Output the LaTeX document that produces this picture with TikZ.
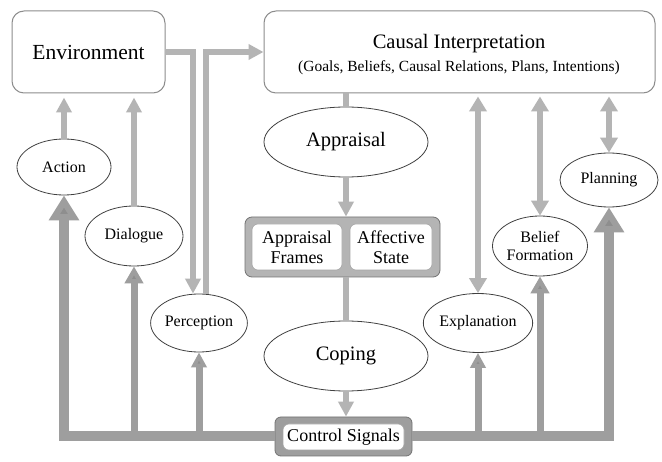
\documentclass[tikz,border=0pt]{standalone}
\usepackage{fontspec}
\setmainfont{Liberation Serif}
\usetikzlibrary{arrows.meta,shapes.geometric}
\definecolor{lgr}{HTML}{B4B4B4}
\definecolor{dgr}{HTML}{9E9E9E}
\definecolor{hgr}{HTML}{8E8E8E}
\definecolor{edg}{HTML}{8C8C8C}
\begin{document}
\begin{tikzpicture}[x=1pt,y=-1pt,
 ell/.style={ellipse, draw=black!75, line width=0.8pt, inner sep=0pt, fill=white, align=center},
 bigbox/.style={rectangle, rounded corners=12pt, draw=edg, line width=1pt, fill=white, inner sep=0pt, align=center},
 graybox/.style={rectangle, rounded corners=7pt, draw=black!55, line width=0.8pt, fill=lgr, inner sep=0pt},
 whitebox/.style={rectangle, rounded corners=6pt, draw=black!35, line width=0.6pt, fill=white, inner sep=0pt, align=center},
 lt/.style={draw=lgr, line width=6pt},
 ltip/.style={-{Triangle[width=15pt,length=15pt]}},
 dtip/.style={{Triangle[width=17pt,length=15pt]}-{Triangle[width=17pt,length=15pt]}},
 ct/.style={draw=dgr, line width=10pt},
 cb/.style={draw=dgr, line width=7pt},
 bigtip/.style={-{Triangle[width=29pt,length=25pt,fill=hgr]}},
 medtip/.style={-{Triangle[width=18pt,length=17pt,fill=hgr]}},
 smtip/.style={-{Triangle[width=15pt,length=15pt,fill=hgr]}},
 ftl/.style={font=\fontsize{16}{18}\selectfont},
 ftb/.style={font=\fontsize{20.5}{24}\selectfont},
 ftm/.style={font=\fontsize{18}{20}\selectfont},
 lbl/.style={inner sep=0pt, anchor=center}
]
\useasboundingbox[fill=white] (0,0) rectangle (662,462);

% nodes
\node[bigbox, minimum width=153pt, minimum height=82pt, font=\fontsize{21.5}{25}\selectfont] (env) at (88.5,52) {Environment};
\node[bigbox, minimum width=391pt, minimum height=82pt] (ci) at (459.5,52) {};
\node[lbl, font=\fontsize{20.5}{24}\selectfont] (citit) at (459,44) {Causal Interpretation};
\node[lbl, font=\fontsize{15.5}{18}\selectfont] (cisub) at (459,68) {(Goals, Beliefs, Causal Relations, Plans, Intentions)};
\node[ell, ftl, minimum width=94pt, minimum height=56pt] (act) at (64,167) {Action};
\node[ell, ftl, minimum width=98pt, minimum height=60pt] (dlg) at (134,236) {Dialogue};
\node[ell, ftl, minimum width=94pt, minimum height=58pt] (perc) at (199,323) {Perception};
\node[ell, ftb, minimum width=164pt, minimum height=70pt] (app) at (346,142) {Appraisal};
\node[graybox, minimum width=195pt, minimum height=60pt] (af) at (342.5,247) {};
\node[whitebox, ftm, minimum width=90pt, minimum height=46pt] (afl) at (297,247) {Appraisal\\Frames};
\node[whitebox, ftm, minimum width=82pt, minimum height=46pt] (afr) at (391,247) {Affective\\State};
\node[ell, ftb, minimum width=164pt, minimum height=70pt] (cop) at (346,356) {Coping};
\node[graybox, fill=dgr, rounded corners=6pt, minimum width=137pt, minimum height=39pt] (cs) at (343.5,436.5) {};
\node[whitebox, ftm, minimum width=121pt, minimum height=26pt] (csi) at (343.5,437) {Control Signals};
\node[ell, ftl, minimum width=95pt, minimum height=59pt] (expl) at (478,323) {Explanation};
\node[ell, ftl, minimum width=95pt, minimum height=60pt] (bel) at (540,246) {Belief\\Formation};
\node[ell, ftl, minimum width=98pt, minimum height=54pt] (plan) at (609,180) {Planning};

% light connectors
\draw[lt, ltip, shorten >=4pt] (act.north) -- (act.north |- env.south);
\draw[lt, ltip, shorten >=4pt] (dlg.north) -- (dlg.north |- env.south);
\draw[lt, ltip] (env.east) -| ([xshift=-6pt]perc.north);
\draw[lt, ltip] ([xshift=7pt]perc.north) |- (ci.west);
\draw[lt] (app.north |- ci.south) -- (app.north);
\draw[lt, ltip] (app.south) -- (app.south |- af.north);
\draw[lt] (cop.north |- af.south) -- (cop.north);
\draw[lt, ltip] (cop.south) -- (cop.south |- cs.north);
\draw[lt, dtip, shorten <=3pt] (expl.north |- ci.south) -- (expl.north);
\draw[lt, dtip, shorten <=3pt] (bel.north |- ci.south) -- (bel.north);
\draw[lt, dtip, shorten <=3pt] (plan.north |- ci.south) -- (plan.north);

% control connectors
\draw[cb, medtip] (dlg.south |- cs.west) -- (dlg.south);
\draw[cb, smtip] (perc.south |- cs.west) -- (perc.south);
\draw[cb, smtip] (expl.south |- cs.east) -- (expl.south);
\draw[cb, medtip] (bel.south |- cs.east) -- (bel.south);
\draw[ct, bigtip] (cs.west) -| (act.south);
\draw[ct, bigtip] (cs.east) -| (plan.south);
\end{tikzpicture}
\end{document}
